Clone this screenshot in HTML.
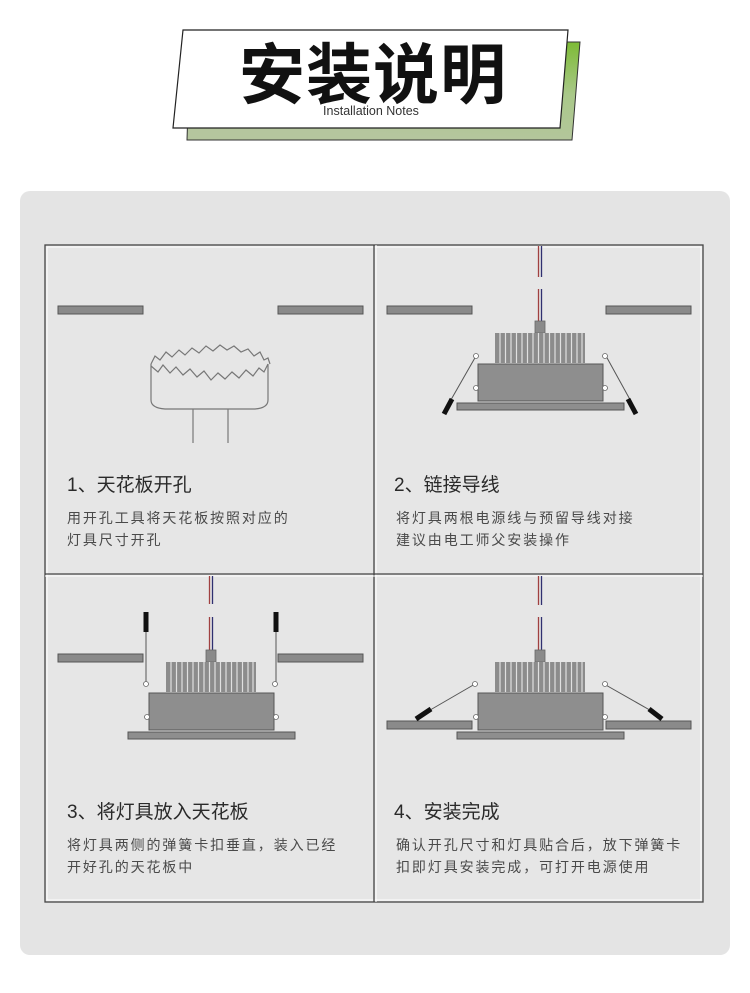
<!DOCTYPE html>
<html><head><meta charset="utf-8"><style>
html,body{margin:0;padding:0;background:#fff;}
svg{display:block;}
.t{font-family:"Liberation Sans","Noto Sans CJK SC",sans-serif;}
.h{font-size:19px;fill:#2a2a2a;}
.d{font-size:14px;fill:#4a4a4a;letter-spacing:1.9px;}
</style></head><body>
<svg width="750" height="993" viewBox="0 0 750 993" xmlns="http://www.w3.org/2000/svg">
<defs>
<linearGradient id="g" x1="1" y1="0" x2="0.7" y2="1">
<stop offset="0" stop-color="#7dbb35"/><stop offset="0.5" stop-color="#a9c889"/><stop offset="1" stop-color="#b5c69e"/>
</linearGradient>
<g id="lamp">
<rect x="-5" y="-12" width="10" height="12" fill="#8a8a8a" stroke="#666" stroke-width="0.8"/>
<rect x="-45" y="0" width="90" height="30" fill="#8c8c8c"/>
<g stroke="#e0e0e0" stroke-width="1.2">
<line x1="-40" y1="0" x2="-40" y2="30"/><line x1="-34.5" y1="0" x2="-34.5" y2="30"/><line x1="-29" y1="0" x2="-29" y2="30"/><line x1="-23.5" y1="0" x2="-23.5" y2="30"/><line x1="-18" y1="0" x2="-18" y2="30"/><line x1="-12.5" y1="0" x2="-12.5" y2="30"/><line x1="-7" y1="0" x2="-7" y2="30"/><line x1="-1.5" y1="0" x2="-1.5" y2="30"/><line x1="4" y1="0" x2="4" y2="30"/><line x1="9.5" y1="0" x2="9.5" y2="30"/><line x1="15" y1="0" x2="15" y2="30"/><line x1="20.5" y1="0" x2="20.5" y2="30"/><line x1="26" y1="0" x2="26" y2="30"/><line x1="31.5" y1="0" x2="31.5" y2="30"/><line x1="37" y1="0" x2="37" y2="30"/><line x1="42" y1="0" x2="42" y2="30"/>
</g>
<rect x="-62" y="31" width="125" height="37" fill="#8e8e8e" stroke="#555" stroke-width="1"/>
<rect x="-83" y="70" width="167" height="7" fill="#8e8e8e" stroke="#555" stroke-width="1"/>
<circle cx="-64" cy="55" r="2.5" fill="#fff" stroke="#666" stroke-width="0.8"/>
<circle cx="65" cy="55" r="2.5" fill="#fff" stroke="#666" stroke-width="0.8"/>
</g>
<g id="bar"><rect x="0" y="0" width="85" height="8" fill="#8a8a8a" stroke="#555" stroke-width="1"/></g>
</defs>

<!-- title -->
<polygon points="190,42 580,42 572,140 187,140" fill="url(#g)" stroke="#333" stroke-width="1"/>
<polygon points="183,30 568,30 560,128 173,128" fill="#fff" stroke="#222" stroke-width="1.2"/>
<text x="373" y="98" text-anchor="middle" class="t" style="font-size:66px;font-weight:bold;fill:#111;letter-spacing:1px">安装说明</text>
<text x="371" y="115" text-anchor="middle" class="t" style="font-size:12.5px;fill:#333">Installation Notes</text>

<!-- panel -->
<rect x="20" y="191" width="710" height="764" rx="10" fill="#e4e4e4"/>
<rect x="45" y="245" width="658" height="657" fill="#e6e6e6" stroke="#444" stroke-width="1.3"/>
<rect x="47" y="247" width="654" height="653" fill="none" stroke="#fff" stroke-width="1"/>
<line x1="374" y1="245" x2="374" y2="902" stroke="#444" stroke-width="1.3"/>
<line x1="376" y1="245" x2="376" y2="902" stroke="#fff" stroke-width="1"/>
<line x1="45" y1="574" x2="703" y2="574" stroke="#444" stroke-width="1.3"/>
<line x1="45" y1="576" x2="703" y2="576" stroke="#fff" stroke-width="1"/>

<!-- panel 1 -->
<use href="#bar" x="58" y="306"/><use href="#bar" x="278" y="306"/>
<g fill="none" stroke="#777" stroke-width="1.2">
<path d="M151,364 L151,400 Q151,408 165,409 L255,409 Q268,408 268,400 L268,364"/>
<polyline points="151,364 155,356 160,360 166,352 172,357 179,350 185,355 192,348 199,353 206,346 213,351 220,345 227,350 234,346 241,352 248,349 254,356 260,352 264,360 268,358 270,364"/>
<polyline points="151,366 158,372 163,365 170,373 176,367 183,375 190,369 197,377 204,371 211,380 218,373 225,379 232,372 239,378 246,370 253,376 259,368 264,372 268,364"/>
<line x1="193" y1="409" x2="193" y2="443"/><line x1="228" y1="409" x2="228" y2="443"/>
</g>
<text x="67" y="491" class="t h">1、天花板开孔</text>
<text x="67" y="523" class="t d">用开孔工具将天花板按照对应的</text>
<text x="67" y="545" class="t d">灯具尺寸开孔</text>

<!-- panel 2 -->
<use href="#bar" x="387" y="306"/><use href="#bar" x="606" y="306"/>
<g stroke-width="1.3">
<line x1="538.5" y1="246" x2="538.5" y2="277" stroke="#a04040"/><line x1="541.5" y1="246" x2="541.5" y2="277" stroke="#303070"/>
<line x1="538.5" y1="289" x2="538.5" y2="321" stroke="#a04040"/><line x1="541.5" y1="289" x2="541.5" y2="321" stroke="#303070"/>
</g>
<use href="#lamp" x="540" y="333"/>
<g stroke="#555" stroke-width="1"><line x1="476" y1="356" x2="448" y2="405"/><line x1="606" y1="356" x2="633" y2="405"/></g>
<g stroke="#111" stroke-width="5"><line x1="452" y1="399" x2="444" y2="414"/><line x1="628" y1="399" x2="636" y2="414"/></g>
<circle cx="476" cy="356" r="2.5" fill="#fff" stroke="#666" stroke-width="0.8"/>
<circle cx="605" cy="356" r="2.5" fill="#fff" stroke="#666" stroke-width="0.8"/>
<text x="394" y="491" class="t h">2、链接导线</text>
<text x="396" y="523" class="t d">将灯具两根电源线与预留导线对接</text>
<text x="396" y="545" class="t d">建议由电工师父安装操作</text>

<!-- panel 3 -->
<use href="#bar" x="58" y="654"/><use href="#bar" x="278" y="654"/>
<g stroke-width="1.3">
<line x1="209.5" y1="576" x2="209.5" y2="604" stroke="#a04040"/><line x1="212.5" y1="576" x2="212.5" y2="604" stroke="#303070"/>
<line x1="209.5" y1="617" x2="209.5" y2="650" stroke="#a04040"/><line x1="212.5" y1="617" x2="212.5" y2="650" stroke="#303070"/>
</g>
<use href="#lamp" x="211" y="662"/>
<g stroke="#555" stroke-width="1"><line x1="146" y1="630" x2="146" y2="685"/><line x1="276" y1="630" x2="276" y2="685"/></g>
<g stroke="#111" stroke-width="5"><line x1="146" y1="612" x2="146" y2="632"/><line x1="276" y1="612" x2="276" y2="632"/></g>
<circle cx="146" cy="684" r="2.5" fill="#fff" stroke="#666" stroke-width="0.8"/>
<circle cx="275" cy="684" r="2.5" fill="#fff" stroke="#666" stroke-width="0.8"/>
<text x="67" y="818" class="t h">3、将灯具放入天花板</text>
<text x="67" y="850" class="t d">将灯具两侧的弹簧卡扣垂直，装入已经</text>
<text x="67" y="872" class="t d">开好孔的天花板中</text>

<!-- panel 4 -->
<use href="#bar" x="387" y="721"/><use href="#bar" x="606" y="721"/>
<g stroke-width="1.3">
<line x1="538.5" y1="576" x2="538.5" y2="605" stroke="#a04040"/><line x1="541.5" y1="576" x2="541.5" y2="605" stroke="#303070"/>
<line x1="538.5" y1="617" x2="538.5" y2="650" stroke="#a04040"/><line x1="541.5" y1="617" x2="541.5" y2="650" stroke="#303070"/>
</g>
<use href="#lamp" x="540" y="662"/>
<g stroke="#555" stroke-width="1"><line x1="475" y1="684" x2="425" y2="713"/><line x1="604" y1="684" x2="655" y2="713"/></g>
<g stroke="#111" stroke-width="5"><line x1="431" y1="709" x2="416" y2="719"/><line x1="649" y1="709" x2="662" y2="719"/></g>
<circle cx="475" cy="684" r="2.5" fill="#fff" stroke="#666" stroke-width="0.8"/>
<circle cx="605" cy="684" r="2.5" fill="#fff" stroke="#666" stroke-width="0.8"/>
<text x="394" y="818" class="t h">4、安装完成</text>
<text x="396" y="850" class="t d">确认开孔尺寸和灯具贴合后，放下弹簧卡</text>
<text x="396" y="872" class="t d">扣即灯具安装完成，可打开电源使用</text>
</svg>
</body></html>
